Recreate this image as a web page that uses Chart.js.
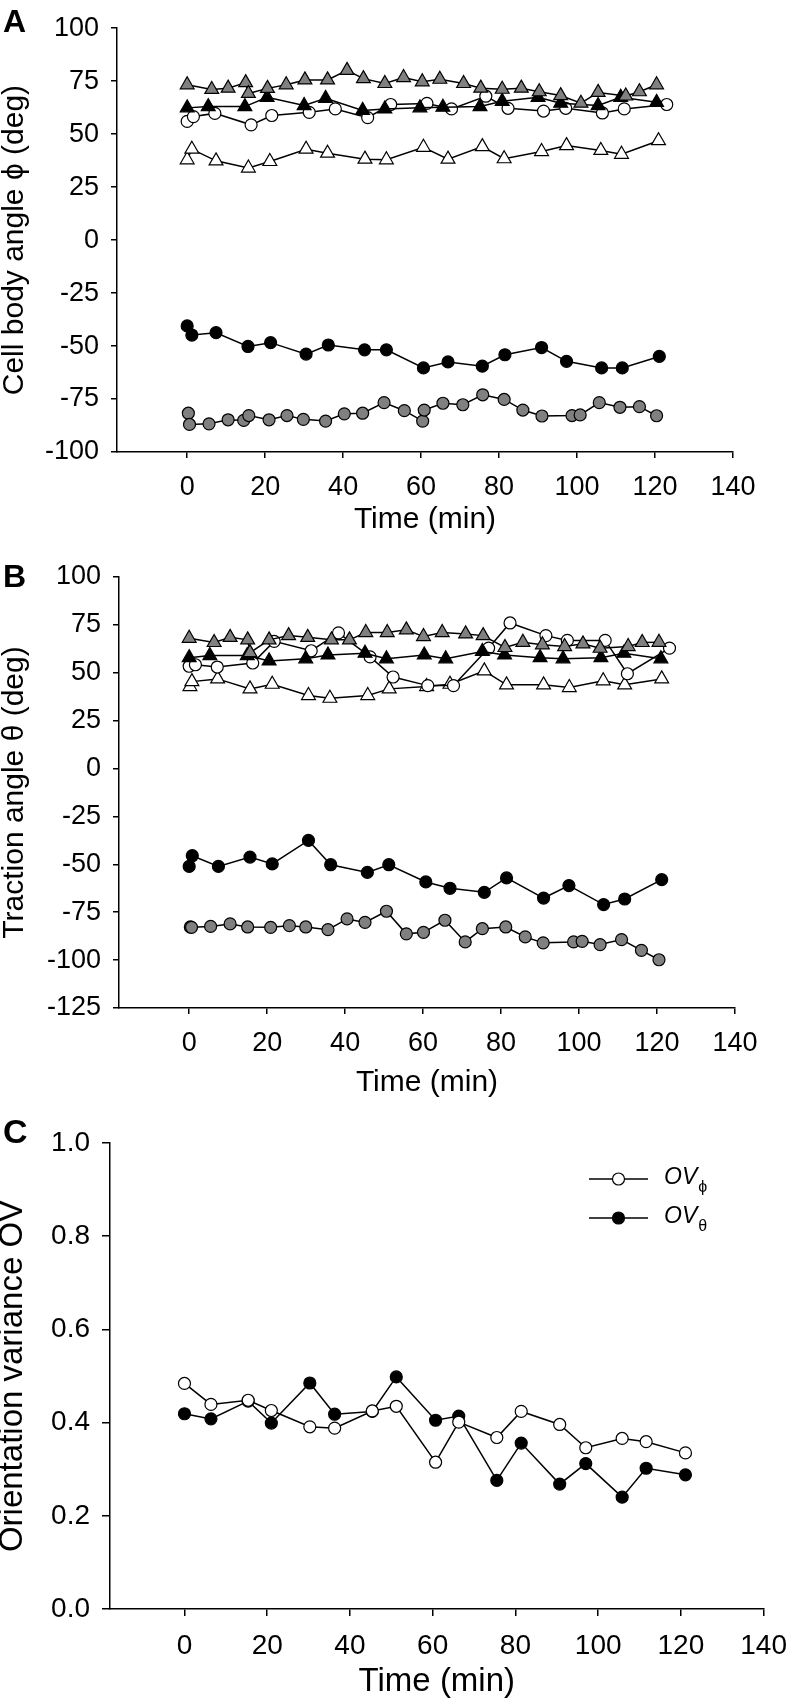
<!DOCTYPE html>
<html>
<head>
<meta charset="utf-8">
<script src="https://cdn.jsdelivr.net/npm/chart.js@4/dist/chart.umd.min.js"></script>
<style>
  body { margin: 0; background: #fff; width: 800px; height: 1700px; position: relative; overflow: hidden; }
  canvas { position: absolute; left: 0; }
</style>
</head>
<body>
<canvas id="chartA" width="800" height="535" style="top:0px"></canvas>
<canvas id="chartB" width="800" height="558" style="top:540px"></canvas>
<canvas id="chartC" width="800" height="596" style="top:1104px"></canvas>
<script>
// tick labels
const xTicks = [0, 20, 40, 60, 80, 100, 120, 140];
const yTicksA = [-100, -75, -50, -25, 0, 25, 50, 75, 100];
const yTicksB = [-125, -100, -75, -50, -25, 0, 25, 50, 75, 100];
const yTicksC = [0, 0.2, 0.4, 0.6, 0.8, 1.0];

// panel A: cell body angle phi (deg)
const aGrayTriT = [0, 6.3, 10.5, 15, 15.7, 20.6, 25.4, 30.2, 36, 41, 45.2, 50.7, 55.5, 60.3, 64.8, 70.9, 75.3, 80.8, 85.7, 90.3, 95.8, 101, 105.4, 112.5, 116, 120.4];
const aGrayTriV = [73.3, 71.1, 71.7, 74.3, 69.2, 71.6, 73.3, 75.6, 75.6, 80.1, 76.2, 73.9, 76.7, 74.7, 75.9, 73.9, 71.7, 71.2, 71.7, 70, 68.2, 64.6, 69.7, 68, 70, 73.3];
const aBlackTriT = [0, 5.4, 14.8, 20.5, 30, 35.5, 45, 50.7, 59.7, 65.6, 75.1, 80.8, 90, 95.8, 105.4, 111.2, 120.4];
const aBlackTriV = [62.4, 63, 63, 67.4, 63.5, 66.9, 61.2, 61.9, 62.4, 62.7, 63, 65.5, 67.4, 64.6, 63.5, 67.4, 65];
const aOpenCircT = [0, 1.6, 7.1, 16.4, 21.7, 31.3, 38, 46.3, 52.2, 61.5, 67.8, 76.6, 82.3, 91.4, 97.1, 106.5, 112.1, 123];
const aOpenCircV = [56, 58.3, 59.8, 54.4, 58.8, 60.3, 61.9, 57.8, 64, 64.5, 61.9, 67.9, 62.2, 60.9, 62.2, 60, 61.9, 64];
const aWhiteTriT = [0, 1.2, 7.4, 15.7, 21.2, 30.5, 36, 45.6, 51.1, 60.6, 66.9, 75.7, 81.3, 90.9, 97.3, 106.1, 111.4, 120.9];
const aWhiteTriV = [37.9, 42.9, 37.4, 34, 37.1, 42.9, 41, 38.2, 37.9, 43.8, 38.2, 44.1, 38.4, 41.8, 44.6, 42.3, 40.5, 46.9];
const aBlackCircT = [0, 1.2, 7.4, 15.6, 21.4, 30.5, 36.2, 45.5, 51.1, 60.6, 66.9, 75.7, 81.5, 90.9, 97.3, 106.3, 111.6, 121.1];
const aBlackCircV = [-40.5, -44.8, -43.7, -50.2, -48.4, -53.8, -49.5, -51.8, -51.8, -60.3, -57.5, -59.5, -54.1, -50.7, -57.2, -60.3, -60.3, -54.9];
const aGrayCircT = [0.3, 0.6, 5.6, 10.5, 14.5, 15.8, 21, 25.6, 29.8, 35.5, 40.3, 45, 50.5, 55.7, 60.4, 60.8, 65.6, 70.7, 75.8, 81.3, 86.1, 91, 98.7, 100.8, 105.7, 111, 116, 120.4];
const aGrayCircV = [-81.7, -87, -86.7, -84.8, -85.1, -82.8, -84.8, -82.8, -84.6, -85.4, -82, -81.7, -76.7, -80.5, -85.4, -80.2, -77, -77.7, -73, -75.2, -80.2, -83, -82.8, -82.5, -76.7, -78.9, -78.6, -82.9];

// panel B: traction angle theta (deg)
const bGrayTriT = [0, 6.4, 10.5, 15, 15.6, 20.5, 25.5, 30.4, 36.5, 41.1, 45.3, 50.8, 55.7, 60.1, 64.9, 70.9, 75.4, 81, 85.6, 90.6, 96.3, 101, 105.4, 112.6, 116.2, 120.5];
const bGrayTriV = [68, 65.8, 68.5, 67.2, 60.5, 67.2, 69.4, 68.5, 67.2, 67.2, 71, 71, 72.4, 68.9, 71, 70.3, 69.4, 63.2, 65.9, 64.6, 63.7, 65.1, 62.8, 63.7, 65.8, 65.9];
const bBlackTriT = [0, 5.3, 14.9, 20.5, 29.9, 35.6, 45.1, 50.6, 60.3, 65.8, 75.2, 80.9, 90, 95.9, 105.6, 111.5, 121];
const bBlackTriV = [57.9, 59, 59, 56.2, 57.3, 59.3, 60.2, 57.3, 59.3, 57.3, 61.1, 59.3, 57.9, 57.3, 57.9, 60.2, 57.3];
const bOpenCircT = [0, 1.6, 7.2, 16.3, 21.8, 31.3, 38.3, 46.4, 52.3, 61.2, 67.8, 76.8, 82.3, 91.5, 97, 106.7, 112.4, 123.2];
const bOpenCircV = [53.4, 54.2, 53, 55.1, 66.4, 61.5, 70.8, 58.3, 47.8, 43.3, 43.3, 62.9, 76, 69.4, 66.9, 66.9, 49.5, 62.9];
const bWhiteTriT = [0.2, 0.7, 7.3, 15.6, 21.3, 30.6, 36.1, 45.8, 51.3, 60.9, 66.9, 75.7, 81.4, 90.9, 97.5, 106.2, 111.7, 121.2];
const bWhiteTriV = [42.8, 45.4, 46.8, 41.6, 44, 38.1, 36.7, 38.1, 41.6, 42.8, 44, 51, 43.7, 43.7, 42.3, 45.8, 43.7, 46.8];
const bBlackCircT = [0, 0.8, 7.5, 15.6, 21.3, 30.6, 36.3, 45.7, 51.2, 60.7, 66.9, 75.7, 81.4, 90.9, 97.4, 106.3, 111.7, 121.2];
const bBlackCircV = [-51.1, -45.5, -51.1, -46.2, -49.8, -37.5, -50.2, -54.2, -50.2, -59.2, -62.5, -64.6, -57.1, -67.6, -61.1, -71, -68.1, -58];
const bGrayCircT = [0.3, 0.6, 5.5, 10.5, 15, 20.9, 25.7, 29.9, 35.6, 40.5, 45.1, 50.6, 55.7, 60.1, 65.6, 70.8, 75.2, 81.2, 86.2, 90.8, 98.6, 100.8, 105.4, 110.9, 116, 120.5];
const bGrayCircV = [-82.7, -82.9, -82.4, -81.1, -82.7, -82.9, -82, -82.7, -84.1, -78.5, -80.3, -74.5, -86.3, -85.5, -79.2, -90.5, -83.6, -82.7, -87.9, -91, -90.5, -90.2, -91.9, -89.3, -94.9, -99.8];

// panel C: orientation variance
const cT = [0, 6.4, 15.4, 21, 30.3, 36.3, 45.4, 51.2, 60.7, 66.3, 75.5, 81.4, 90.7, 97, 105.8, 111.6, 121.1];
const ovPhi = [0.484, 0.439, 0.448, 0.426, 0.391, 0.388, 0.425, 0.435, 0.315, 0.401, 0.368, 0.424, 0.396, 0.346, 0.366, 0.359, 0.335];
const ovTheta = [0.419, 0.408, 0.446, 0.399, 0.485, 0.418, 0.424, 0.498, 0.405, 0.414, 0.276, 0.356, 0.268, 0.312, 0.240, 0.302, 0.288];
const legendLabels = [['OV', 'ϕ'], ['OV', 'θ']];

const FONT = '"Liberation Sans", Arial, Helvetica, sans-serif';
const GRAY = '#808080';

const pts = (t, v) => t.map((x, i) => ({ x, y: v[i] }));

function series(label, t, v, style, fill) {
  return {
    label,
    data: pts(t, v),
    showLine: true,
    borderColor: '#000',
    borderWidth: 1.5,
    pointStyle: style,
    pointRadius: style === 'triangle' ? 8 : 6,
    pointHoverRadius: style === 'triangle' ? 8 : 6,
    pointBackgroundColor: fill,
    pointBorderColor: '#000',
    pointBorderWidth: 1.2,
    tension: 0,
    clip: false
  };
}

function xScale(tickSize, titleSize, boxH, tickLen) {
  return {
    type: 'linear',
    min: -18,
    max: 140,
    afterBuildTicks: (s) => { s.ticks = xTicks.map((v) => ({ value: v })); },
    afterFit: (s) => { s.height = boxH; },
    grid: { drawOnChartArea: false, drawTicks: true, tickLength: tickLen, color: '#000', lineWidth: 1.5 },
    border: { display: true, color: '#000', width: 1.5 },
    ticks: {
      color: '#000', padding: 13, maxRotation: 0, autoSkip: false,
      font: { family: FONT, size: tickSize },
      callback: (v) => String(v)
    },
    title: {
      display: true, text: 'Time (min)', color: '#000',
      font: { family: FONT, size: titleSize, lineHeight: 1 },
      padding: { top: 0, bottom: 0 }
    }
  };
}

function yScale(min, max, ticks, fmt, title, tickSize, titleSize, titleLH, boxW, tickLen) {
  return {
    type: 'linear',
    min,
    max,
    afterBuildTicks: (s) => { s.ticks = ticks.map((v) => ({ value: v })); },
    afterFit: (s) => { s.width = boxW; },
    grid: { drawOnChartArea: false, drawTicks: true, tickLength: tickLen, color: '#000', lineWidth: 1.5 },
    border: { display: true, color: '#000', width: 1.5 },
    ticks: {
      color: '#000', padding: 12, autoSkip: false,
      font: { family: FONT, size: tickSize },
      callback: fmt
    },
    title: {
      display: true, text: title, color: '#000',
      font: { family: FONT, size: titleSize, lineHeight: titleLH },
      padding: { top: 0, bottom: 0 }
    }
  };
}

// bold panel letter A/B/C
const panelLetter = {
  id: 'panelLetter',
  afterDraw(chart, args, opts) {
    const ctx = chart.ctx;
    ctx.save();
    ctx.fillStyle = '#000';
    ctx.font = `bold ${opts.size}px ${FONT}`;
    ctx.textBaseline = 'alphabetic';
    ctx.textAlign = 'left';
    ctx.fillText(opts.text, opts.x, opts.y);
    ctx.restore();
  }
};

// legend of panel C: line + marker + italic OV with subscript
const ovLegend = {
  id: 'ovLegend',
  afterDraw(chart, args, opts) {
    if (!opts.show) return;
    const ctx = chart.ctx;
    ctx.save();
    chart.data.datasets.forEach((ds, i) => {
      const y = opts.y[i];
      ctx.strokeStyle = '#000';
      ctx.lineWidth = 1.5;
      ctx.beginPath();
      ctx.moveTo(opts.x0, y);
      ctx.lineTo(opts.x1, y);
      ctx.stroke();
      ctx.beginPath();
      ctx.arc((opts.x0 + opts.x1) / 2, y, ds.pointRadius, 0, Math.PI * 2);
      ctx.fillStyle = ds.pointBackgroundColor;
      ctx.fill();
      ctx.lineWidth = ds.pointBorderWidth;
      ctx.stroke();
      const [main, sub] = legendLabels[i];
      ctx.fillStyle = '#000';
      ctx.textBaseline = 'alphabetic';
      ctx.textAlign = 'left';
      ctx.font = `italic 23px ${FONT}`;
      ctx.fillText(main, opts.tx, y + 5);
      const w = ctx.measureText(main).width;
      ctx.font = `16px ${FONT}`;
      ctx.fillText(sub, opts.tx + w + 1, y + 13);
    });
    ctx.restore();
  }
};

const intFmt = (v) => String(v);
const decFmt = (v) => Number(v).toFixed(1);

function makeChart(id, datasets, scales, padding, letter, legend) {
  return new Chart(document.getElementById(id), {
    type: 'scatter',
    data: { datasets },
    options: {
      responsive: false,
      animation: false,
      events: [],
      layout: { padding },
      scales,
      plugins: {
        legend: { display: false },
        tooltip: { enabled: false },
        panelLetter: letter,
        ovLegend: legend || { show: false }
      }
    },
    plugins: [panelLetter, ovLegend]
  });
}

makeChart('chartA', [
  series('gray triangles', aGrayTriT, aGrayTriV, 'triangle', GRAY),
  series('black triangles', aBlackTriT, aBlackTriV, 'triangle', '#000'),
  series('open circles', aOpenCircT, aOpenCircV, 'circle', '#fff'),
  series('open triangles', aWhiteTriT, aWhiteTriV, 'triangle', '#fff'),
  series('black circles', aBlackCircT, aBlackCircV, 'circle', '#000'),
  series('gray circles', aGrayCircT, aGrayCircV, 'circle', GRAY)
], {
  x: xScale(27, 30, 83, 6),
  y: yScale(-100, 100, yTicksA, intFmt, 'Cell body angle ϕ (deg)', 27, 30, 1, 117, 6)
}, { left: 0, right: 67, top: 22, bottom: 0 }, { text: 'A', x: 3, y: 32, size: 32 });

makeChart('chartB', [
  series('gray triangles', bGrayTriT, bGrayTriV, 'triangle', GRAY),
  series('black triangles', bBlackTriT, bBlackTriV, 'triangle', '#000'),
  series('open circles', bOpenCircT, bOpenCircV, 'circle', '#fff'),
  series('open triangles', bWhiteTriT, bWhiteTriV, 'triangle', '#fff'),
  series('black circles', bBlackCircT, bBlackCircV, 'circle', '#000'),
  series('gray circles', bGrayCircT, bGrayCircV, 'circle', GRAY)
], {
  x: xScale(27, 30, 90, 6),
  y: yScale(-125, 100, yTicksB, intFmt, 'Traction angle θ (deg)', 27, 30, 1, 119, 6)
}, { left: 0, right: 65, top: 37, bottom: 0 }, { text: 'B', x: 3, y: 47, size: 32 });

makeChart('chartC', [
  series('OVphi', cT, ovPhi, 'circle', '#fff'),
  series('OVtheta', cT, ovTheta, 'circle', '#000')
], {
  x: xScale(28, 33, 89, 7),
  y: yScale(0, 1, yTicksC, decFmt, 'Orientation variance OV', 28, 33, 0.8, 110, 8)
}, { left: 0, right: 24, top: 39, bottom: 2 }, { text: 'C', x: 3, y: 39, size: 34 },
  { show: true, x0: 589, x1: 648, tx: 664, y: [75, 114] });
</script>
</body>
</html>
